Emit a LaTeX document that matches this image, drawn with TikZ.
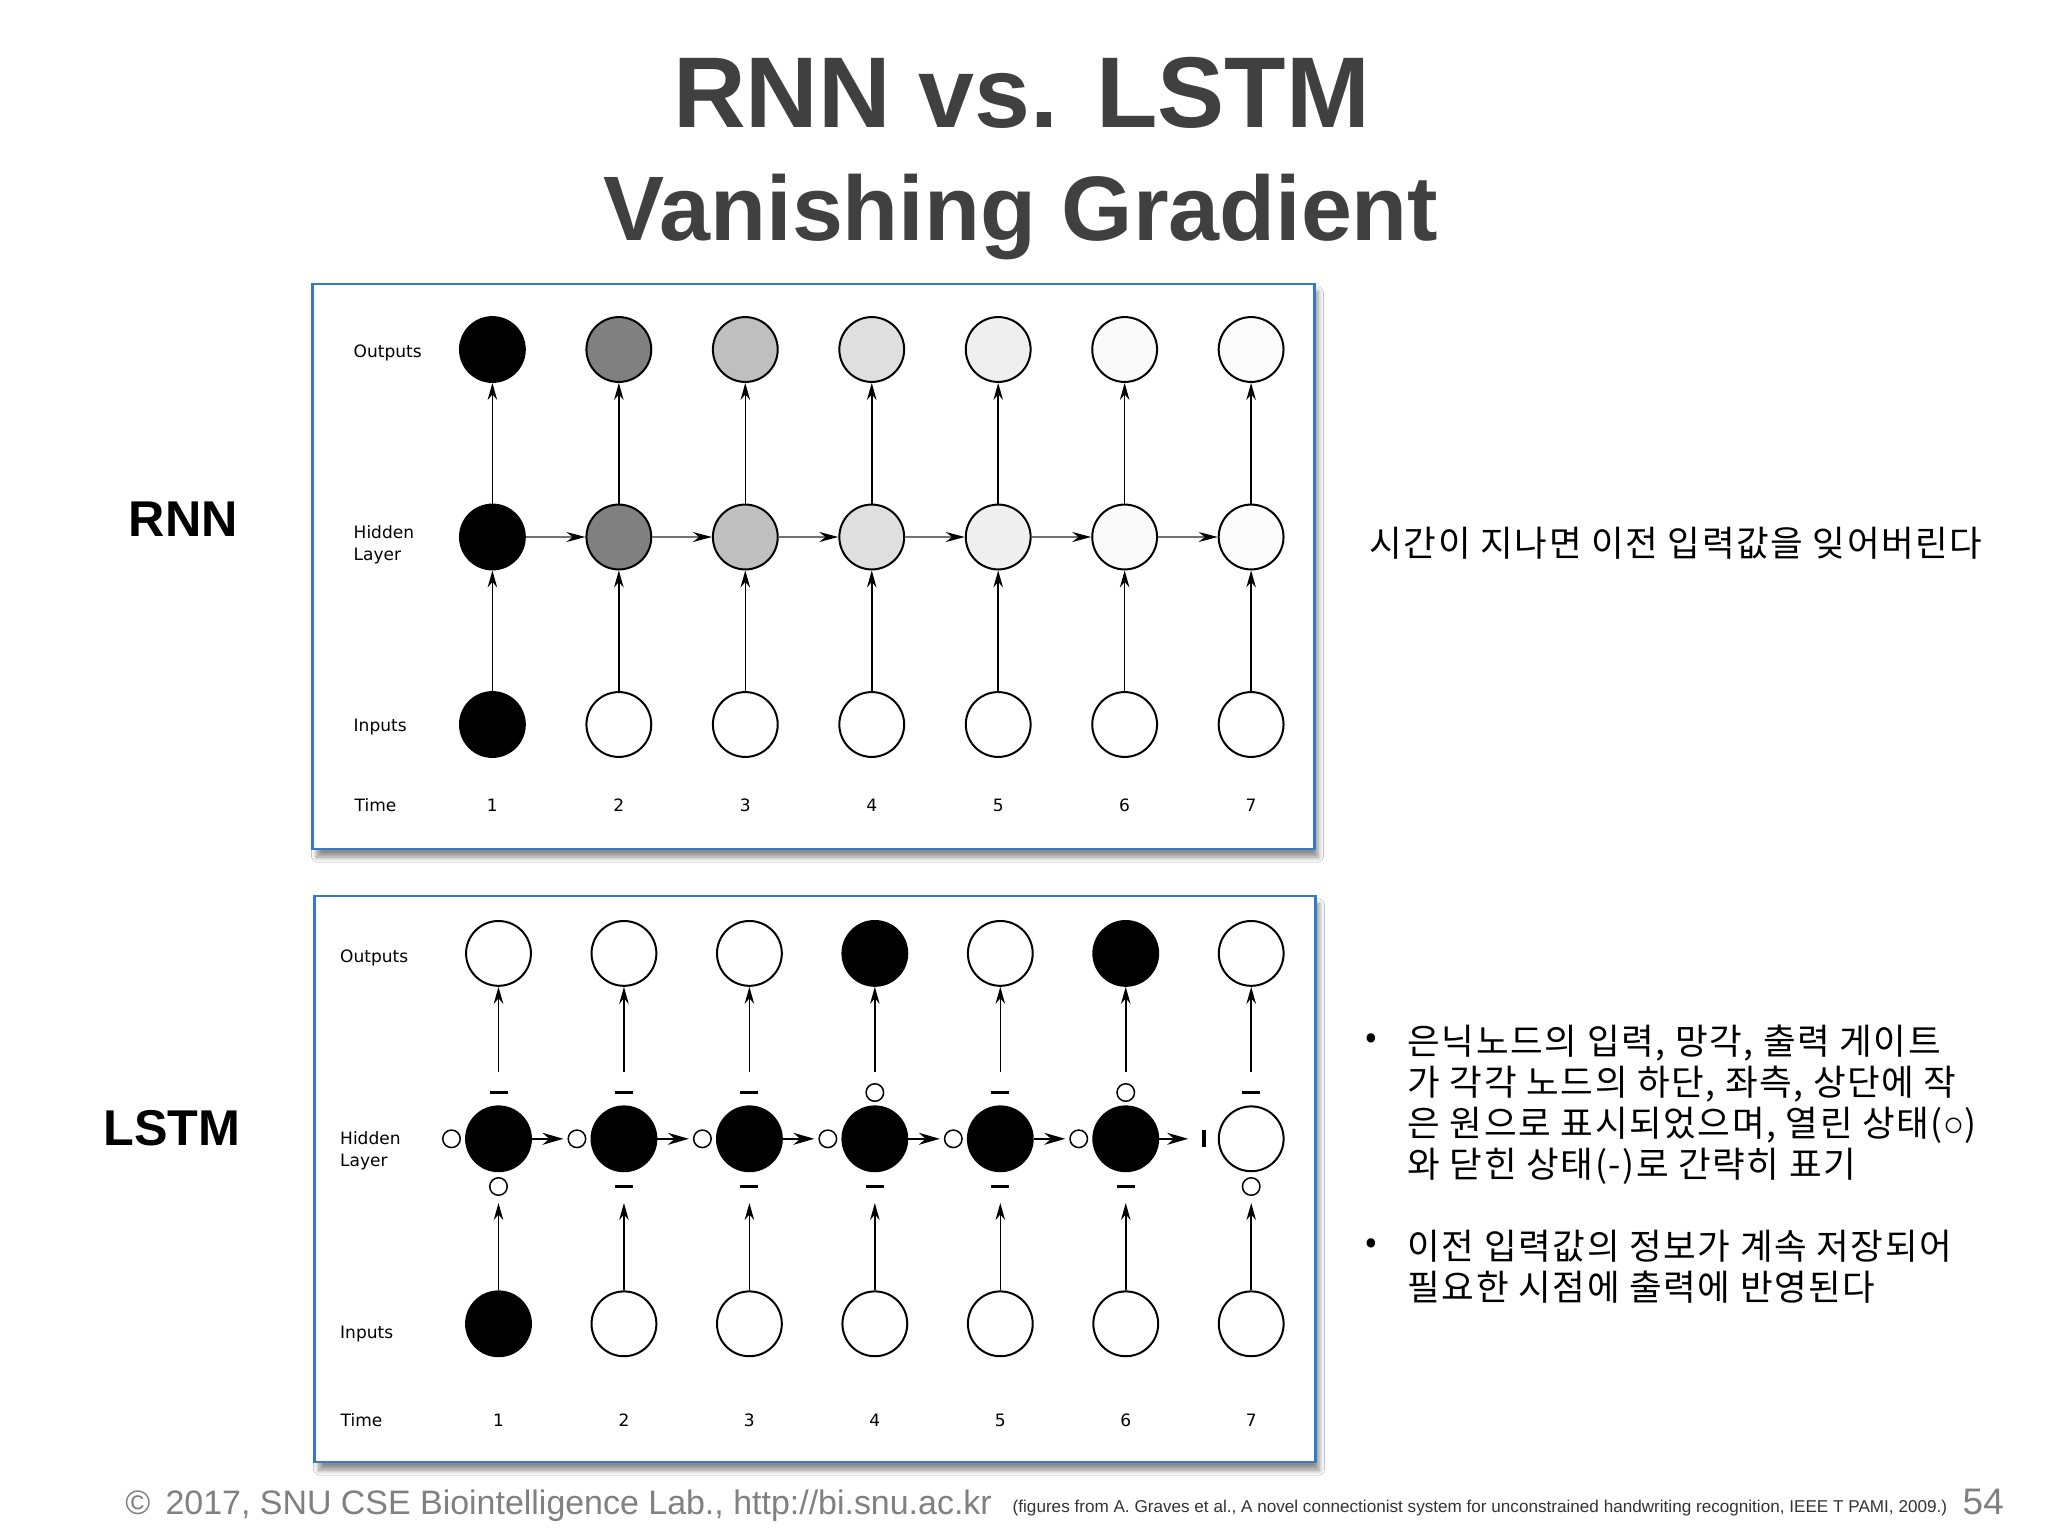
\documentclass[tikz,border=0pt]{standalone}
\usepackage{fontspec}
\setmainfont{Liberation Sans}
\newfontfamily\dejavu{DejaVu Sans}
\newfontfamily\kor[LetterSpace=4.5]{Noto Sans CJK KR}
\usetikzlibrary{arrows.meta,calc,shadows.blur}
\definecolor{titlegray}{RGB}{64,64,64}
\definecolor{footgray}{RGB}{128,128,128}
\definecolor{panelblue}{RGB}{52,122,196}
\begin{document}
\begin{tikzpicture}[x=0.01cm,y=-0.01cm,
  panel/.style={rectangle, draw=panelblue, line width=0.025cm, fill=white, inner sep=0,
    blur shadow={shadow xshift=0.04cm, shadow yshift=-0.08cm, shadow blur steps=6, shadow blur radius=0.05cm, shadow opacity=45}},
  unit/.style={circle, draw=black, line width=0.02cm, minimum size=0.648cm, inner sep=0},
  lab/.style={font=\dejavu\fontsize{4.84pt}{6.2pt}\selectfont, anchor=base west, inner sep=0},
  num/.style={font=\dejavu\fontsize{4.84pt}{6.2pt}\selectfont, anchor=base, inner sep=0},
  varr/.style={line width=0.015cm, -{Stealth[length=0.17cm, width=0.095cm]}},
  rharr/.style={line width=0.015cm, draw=black!55, -{Stealth[length=0.19cm, width=0.1cm, black]}},
  lharr/.style={line width=0.015cm, -{Stealth[length=0.21cm, width=0.12cm]}},
  gopen/.style={circle, draw=black, line width=0.015cm, fill=white, minimum size=0.175cm, inner sep=0},
  gclosed/.style={rectangle, fill=black, minimum width=0.18cm, minimum height=0.037cm, inner sep=0},
  gbar/.style={rectangle, fill=black, minimum width=0.035cm, minimum height=0.17cm, inner sep=0},
  kortxt/.style={font=\kor\fontsize{10.1pt}{12pt}\selectfont, anchor=base west, inner sep=0},
]
\fill[white] (0,0) rectangle (2048,1536);
\useasboundingbox (0,0) rectangle (2048,1536);

% titles
\node[font=\bfseries\fontsize{28.6pt}{30pt}\selectfont, text=titlegray, anchor=base, inner sep=0] (title) at (1021.6,127) {RNN vs. LSTM};
\node[font=\bfseries\fontsize{26.05pt}{28pt}\selectfont, text=titlegray, anchor=base, inner sep=0] (subtitle) at (1021,240) {Vanishing Gradient};

% side labels
\node[font=\bfseries\fontsize{14.3pt}{16pt}\selectfont, anchor=base, inner sep=0] (rnnlab) at (183.2,536.7) {RNN};
\node[font=\bfseries\fontsize{14.3pt}{16pt}\selectfont, anchor=base, inner sep=0] (lstmlab) at (172,1145) {LSTM};

% panels
\node[panel, minimum width=10.01cm, minimum height=5.65cm] (rnnbox) at (813.5,566.5) {};
\node[panel, minimum width=10.00cm, minimum height=5.66cm] (lstmbox) at (815,1179) {};

% ---------- RNN ----------
\node[lab] (rlout) at (353,357.5) {Outputs};
\node[lab] (rlhid) at (353,538) {Hidden};
\node[lab] (rllay) at (353,560) {Layer};
\node[lab] (rlin) at (353,731) {Inputs};
\node[lab] (rltime) at (354,811.6) {Time};
\foreach \i/\c/\ic in {1/black/black, 2/black!50/white, 3/black!25/white, 4/black!12.5/white, 5/black!6.25/white, 6/black!2/white, 7/black!1/white} {
  \pgfmathsetmacro\xx{492.4+126.45*(\i-1)}
  \node[unit, fill=\c] (ro\i) at (\xx,349.5) {};
  \node[unit, fill=\c] (rh\i) at (\xx,537) {};
  \node[unit, fill=\ic] (ri\i) at (\xx,724.5) {};
  \node[num] (rt\i) at (\xx,811.6) {\i};
  \draw[varr] (ri\i) -- (rh\i);
  \draw[varr] (rh\i) -- (ro\i);
}
\foreach \i [evaluate=\i as \j using int(\i+1)] in {1,...,6} {
  \draw[rharr] (rh\i) -- (rh\j);
}

% ---------- LSTM ----------
\node[lab] (llout) at (339.5,962) {Outputs};
\node[lab] (llhid) at (339.5,1144) {Hidden};
\node[lab] (lllay) at (339.5,1166) {Layer};
\node[lab] (llin) at (339.5,1338) {Inputs};
\node[lab] (lltime) at (340,1426.5) {Time};
\foreach \i/\o/\h/\n/\t/\b/\l in {
  1/white/black/black/gclosed/gopen/gopen,
  2/white/black/white/gclosed/gclosed/gopen,
  3/white/black/white/gclosed/gclosed/gopen,
  4/black/black/white/gopen/gclosed/gopen,
  5/white/black/white/gclosed/gclosed/gopen,
  6/black/black/white/gopen/gclosed/gopen,
  7/white/white/white/gclosed/gopen/gbar} {
  \pgfmathsetmacro\xx{498.5+125.45*(\i-1)}
  \node[unit, fill=\o] (lo\i) at (\xx,953.4) {};
  \node[unit, fill=\h] (lh\i) at (\xx,1138.8) {};
  \node[unit, fill=\n] (li\i) at (\xx,1323.8) {};
  \node[\t] (tg\i) at (\xx,1092.5) {};
  \node[\b] (bg\i) at (\xx,1186.5) {};
  \node[\l] (lg\i) at (\xx-47,1138.8) {};
  \node[num] (lt\i) at (\xx,1426.5) {\i};
  \draw[varr] (li\i) -- ($(bg\i)+(0,16.5)$);
  \draw[varr] ($(tg\i)+(0,-20.5)$) -- (lo\i);
}
\foreach \i/\j/\d in {1/2/13.5, 2/3/13.5, 3/4/13.5, 4/5/13.5, 5/6/13.5, 6/7/16} {
  \draw[lharr] (lh\i) -- ($(lg\j)+(-\d,0)$);
}

% ---------- right texts ----------
\node[kortxt] (rnnnote) at (1369,556) {시간이 지나면 이전 입력값을 잊어버린다};
\node[font=\kor\fontsize{9.8pt}{11.7pt}\selectfont, inner sep=0] (bul1) at (1371,1041) {•};
\node[font=\kor\fontsize{9.8pt}{11.7pt}\selectfont, inner sep=0] (bul2) at (1371,1246) {•};
\node[kortxt] (ln1) at (1407,1054) {은닉노드의 입력, 망각, 출력 게이트};
\node[kortxt] (ln2) at (1407,1095) {가 각각 노드의 하단, 좌측, 상단에 작};
\node[kortxt] (ln3) at (1407,1136) {은 원으로 표시되었으며, 열린 상태({\rmfamily ○})};
\node[kortxt] (ln4) at (1407,1177) {와 닫힌 상태(-)로 간략히 표기};
\node[kortxt] (ln5) at (1407,1259) {이전 입력값의 정보가 계속 저장되어};
\node[kortxt] (ln6) at (1407,1300) {필요한 시점에 출력에 반영된다};

% ---------- footer ----------
\node[font=\fontsize{9.65pt}{11pt}\selectfont, text=footgray, anchor=base west, inner sep=0] (foot) at (124.6,1514) {©\hspace{0.45em}2017, SNU CSE Biointelligence Lab., http://bi.snu.ac.kr};
\node[font=\fontsize{4.87pt}{6pt}\selectfont, text=black!80, anchor=base west, inner sep=0] (cite) at (1012,1512) {(figures from A. Graves et al., A novel connectionist system for unconstrained handwriting recognition, IEEE T PAMI, 2009.)};
\node[font=\fontsize{10.5pt}{12pt}\selectfont, text=footgray, anchor=base west, inner sep=0] (pagenum) at (1962,1514) {54};
\end{tikzpicture}
\end{document}
